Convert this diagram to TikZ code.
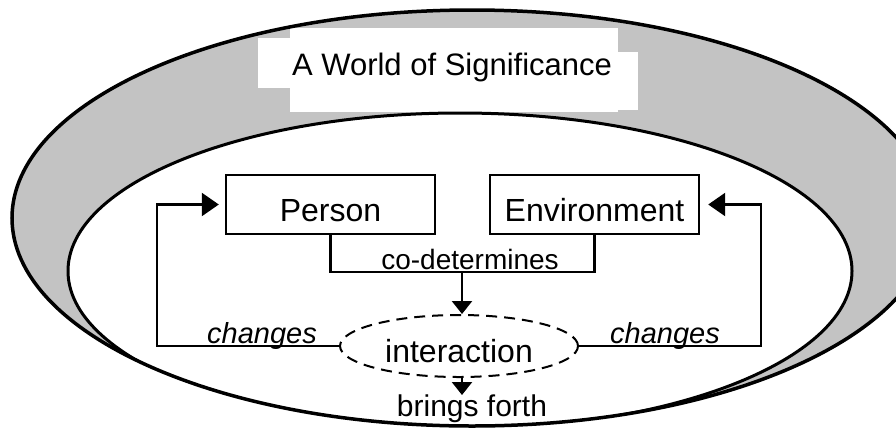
\documentclass[tikz,border=0pt]{standalone}
\usepackage{fontspec}
\setmainfont{Liberation Sans}
\usetikzlibrary{arrows.meta,shapes.geometric,calc}
\definecolor{ring}{RGB}{195,195,195}
\begin{document}
\begin{tikzpicture}[x=1pt,y=-1pt,
  boxnode/.style={draw,line width=2.4pt,minimum width=209pt,minimum height=59pt,inner sep=0pt,
    text height=33pt,text depth=0pt,font=\fontsize{32}{36}\selectfont},
  conn/.style={line width=2.4pt},
  bigtip/.style={-{Triangle[length=17pt,width=23pt]}},
  smalltip/.style={-{Triangle[length=13pt,width=20pt]}},
  lbl/.style={inner sep=0pt,anchor=base},
]
\useasboundingbox (0,0) rectangle (896,429);
% ring
\fill[ring] (472,218) ellipse [x radius=460pt, y radius=208pt];
% title background
\fill[white] (258,38) rectangle (618,88);
\fill[white] (290,28) rectangle (618,112);
\fill[white] (600,52) rectangle (638,110);
\begin{scope}
  \clip (472,218) ellipse [x radius=460pt, y radius=208pt];
  \fill[white] (460,271) ellipse [x radius=392pt, y radius=158pt];
  \draw[line width=3pt] (460,271) ellipse [x radius=392pt, y radius=158pt];
\end{scope}
\draw[line width=3.5pt] (472,218) ellipse [x radius=460pt, y radius=208pt];

\node[lbl,font=\fontsize{31}{36}\selectfont] (title) at (452,75) {A World of Significance};

\node[boxnode] (person) at (330.5,204.5) {Person};
\node[boxnode] (env) at (594.5,204.5) {Environment};
\node[ellipse,draw,line width=2pt,dash pattern=on 11pt off 7pt,minimum width=238pt,minimum height=62pt,
  inner sep=0pt,text height=32pt,text depth=0pt,font=\fontsize{32}{36}\selectfont] (inter) at (459,346) {interaction};

\node[lbl,font=\fontsize{28}{32}\selectfont] (codet) at (470,269) {co-determines};
\node[lbl,font=\fontsize{29}{32}\selectfont\itshape] (chl) at (262,343) {changes};
\node[lbl,font=\fontsize{29}{32}\selectfont\itshape] (chr) at (665,343) {changes};
\node[lbl,font=\fontsize{30}{34}\selectfont] (bf) at (472,416) {brings forth};

\coordinate (cdm) at (462,272);
\coordinate (lc) at (157,346);
\coordinate (rc) at (761,346);
\coordinate (bft) at (462,395);

\draw[conn] (person.south) |- (cdm) -| (env.south);
\draw[conn,smalltip] (cdm) -- (cdm |- inter.north);
\draw[conn,bigtip,shorten >=6pt] (inter.west) -- (lc) |- (person.west);
\draw[conn,bigtip,shorten >=8pt] (inter.east) -- (rc) |- (env.east);
\draw[conn,smalltip] (bft |- inter.south) -- (bft);
\end{tikzpicture}
\end{document}
